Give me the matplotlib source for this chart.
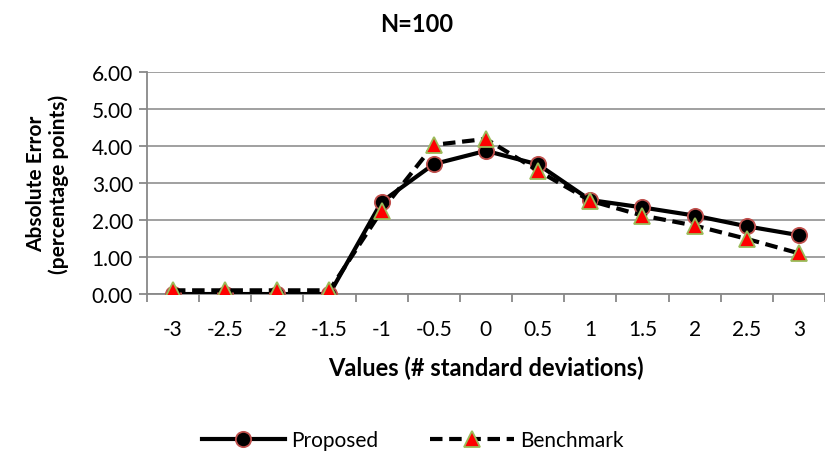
import matplotlib.pyplot as plt
import numpy as np

plt.switch_backend('Agg')
plt.rcParams['font.family'] = ['Lato', 'DejaVu Sans']

# chart data
x_labels = ['-3', '-2.5', '-2', '-1.5', '-1', '-0.5', '0', '0.5', '1', '1.5', '2', '2.5', '3']
proposed = [0.00, 0.00, 0.00, 0.00, 2.49, 3.51, 3.87, 3.50, 2.54, 2.34, 2.12, 1.83, 1.59]
benchmark = [0.10, 0.10, 0.10, 0.10, 2.25, 4.03, 4.19, 3.33, 2.52, 2.12, 1.85, 1.49, 1.10]
y_ticks = [0, 1, 2, 3, 4, 5, 6]

fig = plt.figure(figsize=(8.25, 4.56), dpi=100)
ax = fig.add_axes([0.178, 0.353, 0.822, 0.487])

xs = np.arange(len(x_labels))
ax.plot(xs, proposed, color='black', linewidth=3, marker='o', markersize=11,
        markerfacecolor='black', markeredgecolor='#C0504D', markeredgewidth=1.3,
        label='Proposed', zorder=3)
ax.plot(xs, benchmark, color='black', linewidth=3, linestyle=(0, (3, 1.6)),
        marker='^', markersize=12, markerfacecolor='#FF0000',
        markeredgecolor='#9BBB59', markeredgewidth=1.3,
        label='Benchmark', zorder=4)

ax.set_xlim(-0.5, len(x_labels) - 0.5)
ax.set_ylim(0, 6)
ax.set_yticks(y_ticks)
ax.set_yticklabels([f'{v:.2f}' for v in y_ticks], fontsize=15)
ax.set_xticks(xs)
ax.set_xticklabels(x_labels, fontsize=15)
ax.set_xticks(np.arange(-0.5, len(x_labels)), minor=True)
ax.tick_params(axis='x', which='major', length=0, pad=18)
ax.tick_params(axis='x', which='minor', length=6, color='#888888', width=1.3)
ax.tick_params(axis='y', length=6, color='#888888', width=1.3, pad=4)

ax.yaxis.grid(True, color='#999999', linewidth=1.3)
ax.set_axisbelow(True)
for side in ['top', 'right']:
    ax.spines[side].set_visible(False)
for side in ['left', 'bottom']:
    ax.spines[side].set_color('#888888')
    ax.spines[side].set_linewidth(1.3)

fig.text(0.505, 1 - 25 / 456, 'N=100', fontsize=17, fontweight='bold',
         ha='center', va='center')
ax.set_xlabel('Values (# standard deviations)', fontsize=17, fontweight='bold', labelpad=12)
ax.set_ylabel('Absolute Error\n(percentage points)', fontsize=15, fontweight='bold',
              labelpad=16, linespacing=1.15)

fig.legend(loc='center', bbox_to_anchor=(0.5, 0.033), ncol=2, frameon=False,
           fontsize=15, handlelength=4, columnspacing=2.5, handletextpad=0.3)

plt.savefig('out.png', dpi=100)
plt.close()
